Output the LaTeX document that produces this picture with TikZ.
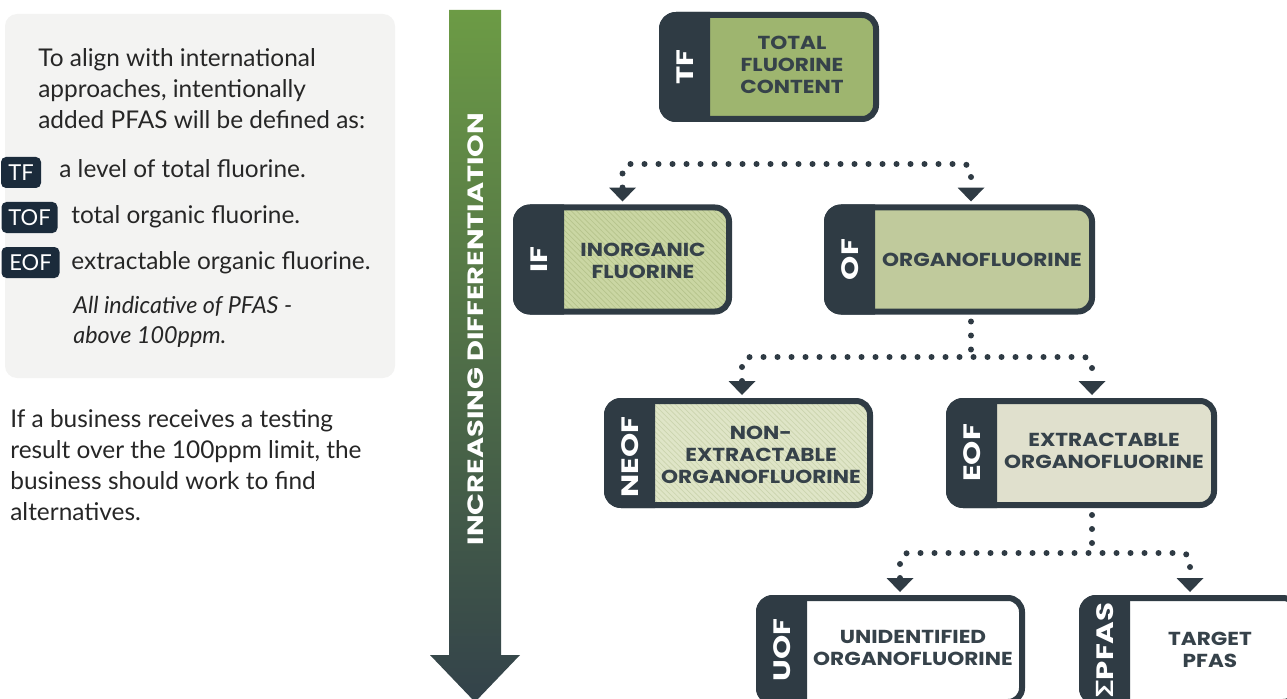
\documentclass[tikz,border=0pt]{standalone}
\usepackage{fontspec}
\setmainfont{Lato}
\newfontfamily\boxfont{Poppins}[FakeStretch=1.15]
\newfontfamily\tagfont{Poppins}[FakeStretch=1.3]
\newfontfamily\greekfont{Lato}[FakeStretch=1.2]
\usetikzlibrary{arrows.meta,calc,patterns}

\newlength\px
\setlength\px{0.02cm}

\definecolor{tierdark}{HTML}{2F3B44}
\definecolor{tiertextc}{HTML}{36424A}
\definecolor{tfgreen}{HTML}{9EB56F}
\definecolor{ifgreen}{HTML}{CAD6A3}
\definecolor{ifstripe}{HTML}{B6C48C}
\definecolor{ofgreen}{HTML}{C0CA9C}
\definecolor{neofpale}{HTML}{DFE5C7}
\definecolor{neofstripe}{HTML}{CBD4AE}
\definecolor{eofbeige}{HTML}{E0E0CD}
\definecolor{panelgrey}{HTML}{F3F3F2}
\definecolor{badgeblue}{HTML}{1B2B3B}
\definecolor{notegrey}{HTML}{262626}
\definecolor{arrowgreen}{HTML}{6C9B45}
\definecolor{arrowmid}{HTML}{4C6449}
\definecolor{arrowdark}{HTML}{33424A}

\tikzset{
  tier/.style={draw=tierdark, line width=6\px, rounded corners=14\px, outer sep=3\px,
    minimum width=#1, minimum height=104\px, inner sep=0pt},
  hatched/.style 2 args={preaction={fill=#1}, pattern=north west lines, pattern color=#2},
  tag/.style={text=white, rotate=90, font=\tagfont\bfseries\fontsize{13.5}{16}\selectfont},
  tiertext/.style={text=tiertextc, align=center, font=\boxfont\bfseries\fontsize{10.7}{12.5}\selectfont},
  dotline/.style={draw=tierdark, line width=6\px, line cap=round,
    dash pattern=on 0pt off 14\px, rounded corners=8\px},
  splittip/.tip={Triangle[width=0.54cm,length=0.28cm,line width=0pt 0]},
  dotarrow/.style={dotline, splittip-splittip},
  badge/.style={fill=badgeblue, rounded corners=5\px, text=white, inner sep=0pt,
    minimum height=31\px, font=\fontsize{12.5}{14}\selectfont},
  note/.style={text=notegrey, align=left, inner sep=0pt, font=\fontsize{13.9}{17.6}\selectfont},
}

\begin{document}
\begin{tikzpicture}[x=1\px, y=-1\px]
	\useasboundingbox (0,0) rectangle (1287,699);
	\clip (0,0) rectangle (1287,699);

	% left panel
	\fill[panelgrey, rounded corners=12\px] (5,14) rectangle (395,378);
	\node[note, anchor=north west] (intro) at (38,48) {To align with international\\approaches, intentionally\\added PFAS will be defined as:};
	\node[badge, minimum width=40\px] (btf) at (21,172.5) {TF};
	\node[badge, minimum width=56\px] (btof) at (29.5,217.5) {TOF};
	\node[badge, minimum width=58\px] (beof) at (30.5,262.5) {EOF};
	\node[note, anchor=base west] (ltf) at (59,178) {a level of total fluorine.};
	\node[note, anchor=base west] (ltof) at (71,223) {total organic fluorine.};
	\node[note, anchor=base west] (leof) at (71,269) {extractable organic fluorine.};
	\node[note, anchor=north west, font=\itshape\fontsize{13.3}{17.2}\selectfont] (allpfas) at (73,296) {All indicative of PFAS -\\above 100ppm.};
	\node[note, anchor=north west] (business) at (10,409) {If a business receives a testing\\result over the 100ppm limit, the\\business should work to find\\alternatives.};

	% big arrow
	\shade[top color=arrowgreen, middle color=arrowmid, bottom color=arrowdark]
		(449,10) -- (501,10) -- (501,655) -- (520,655) -- (475,702) -- (430,655) -- (449,655) -- cycle;
	\node[rotate=90, text=white, font=\tagfont\bfseries\fontsize{12.6}{15}\selectfont] (diff) at (476,329) {INCREASING DIFFERENTIATION};

	% tiers
	\node[tier=214\px, fill=tfgreen] (tf) at (769,67) {};
	\node[tier=213\px, hatched={ifgreen}{ifstripe}] (if) at (622.5,259.5) {};
	\node[tier=265\px, fill=ofgreen] (of) at (959.5,259.5) {};
	\node[tier=263\px, hatched={neofpale}{neofstripe}] (neof) at (738.5,453) {};
	\node[tier=265\px, fill=eofbeige] (eof) at (1081.5,453) {};
	\node[tier=263\px, fill=white] (uof) at (890.5,650) {};
	\node[tier=215\px, fill=white] (pfas) at (1189.5,650) {};

	\foreach \b in {tf,if,of,neof,eof,uof,pfas}
		\fill[tierdark] ($(\b.north west)+(51,0)$) [rounded corners=17\px] -- (\b.north west) -- (\b.south west) [sharp corners] -- ($(\b.south west)+(51,0)$) -- cycle;

	\node[tag] (tftag) at ($(tf.west)+(26,0)$) {TF};
	\node[tag] (iftag) at ($(if.west)+(26,0)$) {IF};
	\node[tag] (oftag) at ($(of.west)+(26,0)$) {OF};
	\node[tag] (neoftag) at ($(neof.west)+(26,4)$) {NEOF};
	\node[tag] (eoftag) at ($(eof.west)+(26,0)$) {EOF};
	\node[tag] (uoftag) at ($(uof.west)+(26,0)$) {UOF};
	\node[tag] (pfastag) at ($(pfas.west)+(26,0)$) {{\greekfont Σ}PFAS};

	\node[tiertext] (tftext) at (792,65) {TOTAL\\FLUORINE\\CONTENT};
	\node[tiertext] (iftext) at (643,261) {INORGANIC\\FLUORINE};
	\node[tiertext] (oftext) at (982,260) {ORGANOFLUORINE};
	\node[tiertext] (neoftext) at (761,455) {NON-\\EXTRACTABLE\\ORGANOFLUORINE};
	\node[tiertext] (eoftext) at (1104,451) {EXTRACTABLE\\ORGANOFLUORINE};
	\node[tiertext] (uoftext) at (913,648) {UNIDENTIFIED\\ORGANOFLUORINE};
	\node[tiertext] (pfastext) at (1210,650) {TARGET\\PFAS};

	% dotted splits
	\coordinate (split1) at (795,164);
	\coordinate (split2) at (971,357);
	\coordinate (split3) at (1092,553);
	\draw[dotarrow] ($(if.north)+(0,-3)$) |- (split1) -| ($(of.north)+(11.5,-3)$);
	\draw[dotline] ($(of.south)+(11.5,7)$) -- (split2);
	\draw[dotarrow] ($(neof.north)+(3.5,-3)$) |- (split2) -| ($(eof.north)+(10.5,-3)$);
	\draw[dotline] ($(eof.south)+(10.5,7)$) -- (split3);
	\draw[dotarrow] ($(uof.north)+(9.5,-3)$) |- (split3) -| ($(pfas.north)+(0.5,-3)$);
\end{tikzpicture}
\end{document}
